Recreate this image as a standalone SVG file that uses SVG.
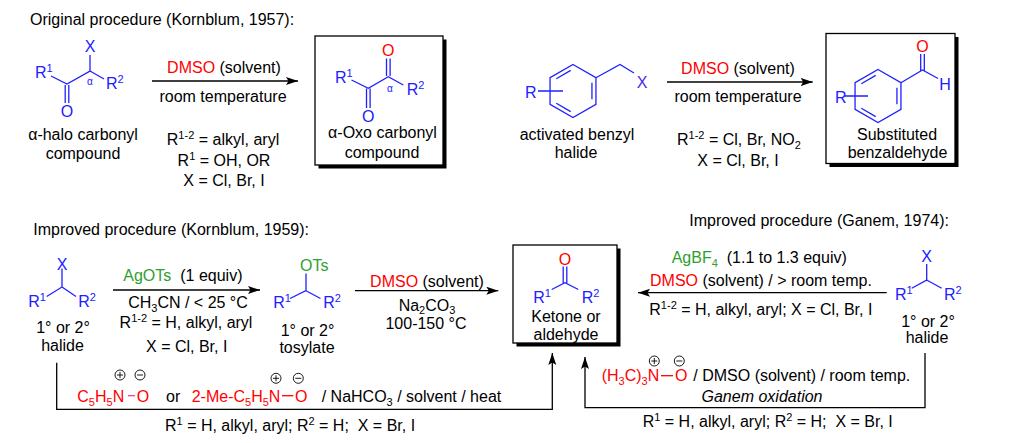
<svg xmlns="http://www.w3.org/2000/svg" width="1012" height="443" viewBox="0 0 1012 443">
<style>
text{font-family:"Liberation Sans",Arial,sans-serif;font-size:16px;fill:#000}
.b{fill:#2020ff}
.r{fill:#ff0000}
.g{fill:#2f9e2f}
.s{font-size:11px}
.a{font-size:10px}
.it{font-style:italic}
.bd{stroke:#2020ff;stroke-width:1.3;fill:none}
.ln{stroke:#000;stroke-width:1.3;fill:none}
.box{fill:#fff;stroke:#000;stroke-width:1.3}
.sh{fill:#000}
.rb{stroke:#ff0000;stroke-width:1.3}
.pb{stroke:#f0409a;stroke-width:1.3}
.ch{fill:none;stroke:#000;stroke-width:0.9}
</style>
<defs>
<marker id="ah" markerUnits="userSpaceOnUse" markerWidth="13" markerHeight="9" refX="12" refY="4" orient="auto"><path d="M0,0 L12,4 L0,8 L2.5,4 z" fill="#000"/></marker>
<g id="plus"><circle r="5" class="ch"/><path d="M-3,0H3M0,-3V3" class="ch"/></g>
<g id="minus"><circle r="5" class="ch"/><path d="M-3,0H3" class="ch"/></g>
</defs>

<text x="30" y="25">Original procedure (Kornblum, 1957):</text>
<text x="33.3" y="235">Improved procedure (Kornblum, 1959):</text>
<text x="689.3" y="226">Improved procedure (Ganem, 1974):</text>

<g id="halo-carbonyl">
<path class="bd" d="M51,76 L67,84 L90,71 L90,55 M90,71 L104,79 M65.2,85 V103 M68.8,85 V103"/>
<text class="b" x="90" y="52" text-anchor="middle">X</text>
<text class="b" x="35" y="78">R<tspan class="s" dy="-6">1</tspan></text>
<text class="b" x="106" y="89">R<tspan class="s" dy="-6">2</tspan></text>
<text class="b" x="67" y="116.5" text-anchor="middle">O</text>
<text class="b a" x="90" y="85" text-anchor="middle">α</text>
<text x="83" y="140" text-anchor="middle">α-halo carbonyl</text>
<text x="83" y="159" text-anchor="middle">compound</text>
</g>

<g id="cond1">
<text x="224" y="73" text-anchor="middle"><tspan class="r">DMSO</tspan> (solvent)</text>
<text x="223" y="102" text-anchor="middle">room temperature</text>
<text x="223" y="145" text-anchor="middle">R<tspan class="s" dy="-6">1-2</tspan><tspan dy="6"> = alkyl, aryl</tspan></text>
<text x="224" y="165.5" text-anchor="middle">R<tspan class="s" dy="-6">1</tspan><tspan dy="6"> = OH, OR</tspan></text>
<text x="224" y="186" text-anchor="middle">X = Cl, Br, I</text>
</g>

<g id="oxo-carbonyl">
<rect class="sh" x="318.5" y="39.5" width="128" height="129"/>
<rect class="box" x="315" y="36" width="128" height="129"/>
<path class="bd" d="M351.5,80 L368.3,88.3 L388.3,76.7 L403.3,85 M386.5,58.5 V76 M390.1,58.5 V76 M366.5,88.5 V108 M370.1,88.5 V108"/>
<text class="r" x="388.3" y="56" text-anchor="middle">O</text>
<text class="b" x="368.3" y="121.5" text-anchor="middle">O</text>
<text class="b" x="335" y="83">R<tspan class="s" dy="-6">1</tspan></text>
<text class="b" x="406.7" y="95">R<tspan class="s" dy="-6">2</tspan></text>
<text class="b a" x="390" y="92" text-anchor="middle">α</text>
<text x="382.5" y="138" text-anchor="middle">α-Oxo carbonyl</text>
<text x="382" y="158" text-anchor="middle">compound</text>
</g>

<g id="benzyl-halide">
<polygon class="bd" points="573,64.5 595.95,77.75 595.95,104.25 573,117.5 550.05,104.25 550.05,77.75"/>
<path class="bd" d="M556.3,78.75 L570.7,70.43 M591.95,82.69 V99.31 M556.3,103.25 L570.7,111.57 M538,91 H563 M595.95,77.75 L620,64.5 L634,73"/>
<text class="b" x="525" y="98">R</text>
<text x="642" y="87.5" text-anchor="middle" style="fill:#4a2ae8">X</text>
<text x="577" y="140" text-anchor="middle">activated benzyl</text>
<text x="576" y="158" text-anchor="middle">halide</text>
</g>

<g id="cond2">
<text x="738" y="74" text-anchor="middle"><tspan class="r">DMSO</tspan> (solvent)</text>
<text x="738" y="102" text-anchor="middle">room temperature</text>
<text x="677" y="145">R<tspan class="s" dy="-6">1-2</tspan><tspan dy="6"> = Cl, Br, NO</tspan><tspan class="s" dy="4">2</tspan></text>
<text x="738" y="165.5" text-anchor="middle">X = Cl, Br, I</text>
</g>

<g id="benzaldehyde">
<rect class="sh" x="829.5" y="37" width="129" height="130"/>
<rect class="box" x="826" y="33.5" width="129" height="130"/>
<polygon class="bd" points="878,69.5 900.95,82.75 900.95,109.25 878,122.5 855.05,109.25 855.05,82.75"/>
<path class="bd" d="M861.3,83.75 L875.7,75.43 M896.95,87.69 V104.31 M861.3,108.25 L875.7,116.57 M845,96 H868 M900.95,82.75 L922.5,70 L938,78.5 M920.7,54 V70.5 M924.3,54 V70.5"/>
<text class="r" x="922.5" y="51.5" text-anchor="middle">O</text>
<text class="b" x="945" y="89.5" text-anchor="middle">H</text>
<text class="b" x="835" y="103">R</text>
<text x="897" y="140" text-anchor="middle">Substituted</text>
<text x="897.5" y="158" text-anchor="middle">benzaldehyde</text>
</g>

<g id="halide-left">
<path class="bd" d="M62,268.5 V287 L46.7,296.5 M62,287 L76,296.5"/>
<text class="b" x="62" y="270" text-anchor="middle">X</text>
<text class="b" x="28.3" y="306.5">R<tspan class="s" dy="-6">1</tspan></text>
<text class="b" x="78.3" y="306.5">R<tspan class="s" dy="-6">2</tspan></text>
<text x="63" y="333" text-anchor="middle">1° or 2°</text>
<text x="62.5" y="351" text-anchor="middle">halide</text>
</g>

<g id="cond3">
<text x="123.3" y="281" xml:space="preserve"><tspan class="g">AgOTs</tspan>  (1 equiv)</text>
<text x="188" y="308" text-anchor="middle">CH<tspan class="s" dy="4">3</tspan><tspan dy="-4">CN / &lt; 25 °C</tspan></text>
<text x="186" y="328" text-anchor="middle">R<tspan class="s" dy="-6">1-2</tspan><tspan dy="6"> = H, alkyl, aryl</tspan></text>
<text x="186.7" y="351.5" text-anchor="middle">X = Cl, Br, I</text>
</g>

<g id="tosylate">
<path class="bd" d="M306,273.5 V290.7 L290,298.5 M306,290.7 L320.5,298.5"/>
<text class="g" x="300" y="271">OTs</text>
<text class="b" x="273.3" y="308">R<tspan class="s" dy="-6">1</tspan></text>
<text class="b" x="323.3" y="308">R<tspan class="s" dy="-6">2</tspan></text>
<text x="307.5" y="335.5" text-anchor="middle">1° or 2°</text>
<text x="307" y="353" text-anchor="middle">tosylate</text>
</g>

<g id="cond4">
<text x="427" y="286.5" text-anchor="middle"><tspan class="r">DMSO</tspan> (solvent)</text>
<text x="427" y="310.5" text-anchor="middle">Na<tspan class="s" dy="3">2</tspan><tspan dy="-3">CO</tspan><tspan class="s" dy="3">3</tspan></text>
<text x="426" y="328.5" text-anchor="middle">100-150 °C</text>
</g>

<g id="ketone">
<rect class="sh" x="516.5" y="248.5" width="104" height="98"/>
<rect class="box" x="513" y="245" width="104" height="98"/>
<path class="bd" d="M551.7,289.5 L565,282.7 L578.3,289.5 M563.2,266.5 V283 M566.8,266.5 V283"/>
<text class="r" x="565" y="265" text-anchor="middle">O</text>
<text class="b" x="533.3" y="303">R<tspan class="s" dy="-6">1</tspan></text>
<text class="b" x="581.7" y="303">R<tspan class="s" dy="-6">2</tspan></text>
<text x="566" y="322" text-anchor="middle">Ketone or</text>
<text x="566" y="340" text-anchor="middle">aldehyde</text>
</g>

<g id="cond5">
<text x="671.7" y="263" xml:space="preserve"><tspan class="g">AgBF</tspan><tspan class="g s" dy="4">4</tspan><tspan dy="-4">  (1.1 to 1.3 equiv)</tspan></text>
<text x="650" y="285.5"><tspan class="r">DMSO</tspan> (solvent) / &gt; room temp.</text>
<text x="649.3" y="315">R<tspan class="s" dy="-6">1-2</tspan><tspan dy="6"> = H, alkyl, aryl; X = Cl, Br, I</tspan></text>
</g>

<g id="halide-right">
<path class="bd" d="M926.7,264 V280 L911.7,288.3 M926.7,280 L941.7,288.3"/>
<text class="b" x="926.7" y="262" text-anchor="middle">X</text>
<text class="b" x="895" y="300">R<tspan class="s" dy="-6">1</tspan></text>
<text class="b" x="944" y="300">R<tspan class="s" dy="-6">2</tspan></text>
<text x="928" y="326.5" text-anchor="middle">1° or 2°</text>
<text x="927" y="343" text-anchor="middle">halide</text>
</g>

<g id="cond6">
<text class="r" x="77.3" y="401.5">C<tspan class="s" dy="4">5</tspan><tspan dy="-4">H</tspan><tspan class="s" dy="4">5</tspan><tspan dy="-4">N</tspan></text>
<line class="pb" x1="128" y1="395.7" x2="135" y2="395.7"/>
<text class="r" x="136.7" y="401.5">O</text>
<use href="#plus" x="120" y="375"/>
<use href="#minus" x="140" y="375"/>
<text x="166" y="401.5">or</text>
<text class="r" x="191.7" y="401.5">2-Me-C<tspan class="s" dy="4">5</tspan><tspan dy="-4">H</tspan><tspan class="s" dy="4">5</tspan><tspan dy="-4">N</tspan></text>
<line class="rb" x1="282" y1="395.7" x2="293.3" y2="395.7"/>
<text class="r" x="295" y="401.5">O</text>
<use href="#plus" x="276" y="378.3"/>
<use href="#minus" x="298.3" y="378.3"/>
<text x="321.7" y="401.5">/ NaHCO<tspan class="s" dy="4">3</tspan><tspan dy="-4"> / solvent / heat</tspan></text>
<text x="165" y="430.5" xml:space="preserve">R<tspan class="s" dy="-6">1</tspan><tspan dy="6"> = H, alkyl, aryl; R</tspan><tspan class="s" dy="-6">2</tspan><tspan dy="6"> = H;  X = Br, I</tspan></text>
</g>

<g id="cond7">
<text class="r" x="601.7" y="381">(H<tspan class="s" dy="4">3</tspan><tspan dy="-4">C)</tspan><tspan class="s" dy="4">3</tspan><tspan dy="-4">N</tspan></text>
<line class="rb" x1="661" y1="375.7" x2="673" y2="375.7"/>
<text class="r" x="675" y="381">O</text>
<use href="#plus" x="654.3" y="361"/>
<use href="#minus" x="679.3" y="361"/>
<text x="693.3" y="381">/ DMSO (solvent) / room temp.</text>
<text class="it" x="762" y="401.5" text-anchor="middle">Ganem oxidation</text>
<text x="642.7" y="426.5" xml:space="preserve">R<tspan class="s" dy="-6">1</tspan><tspan dy="6"> = H, alkyl, aryl; R</tspan><tspan class="s" dy="-6">2</tspan><tspan dy="6"> = H;  X = Br, I</tspan></text>
</g>

<g id="connectors">
<line class="ln" x1="152" y1="81" x2="298" y2="81" marker-end="url(#ah)"/>
<line class="ln" x1="667" y1="82" x2="812.7" y2="82" marker-end="url(#ah)"/>
<line class="ln" x1="113" y1="290" x2="260" y2="290" marker-end="url(#ah)"/>
<line class="ln" x1="355" y1="290.7" x2="498.3" y2="290.7" marker-end="url(#ah)"/>
<line class="ln" x1="886.7" y1="292.7" x2="638" y2="292.7" marker-end="url(#ah)"/>
<path class="ln" d="M56.7,362.7 V409.3 H552.3 V353" marker-end="url(#ah)"/>
<path class="ln" d="M925,353 V407.7 H585 V357" marker-end="url(#ah)"/>
</g>
</svg>
